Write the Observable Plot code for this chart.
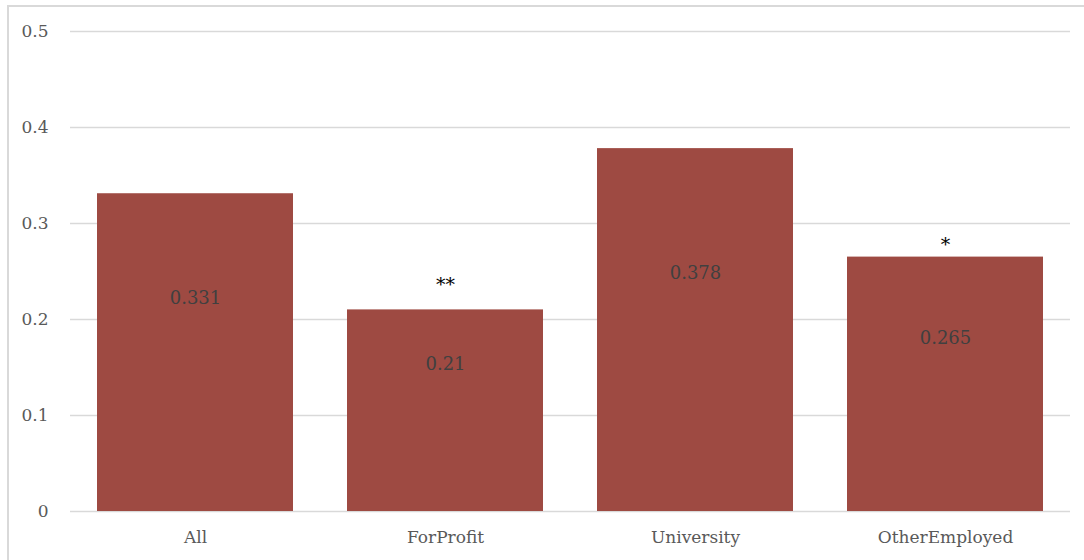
<!DOCTYPE html>
<html>
<head>
<meta charset="utf-8">
<script src="https://cdn.jsdelivr.net/npm/d3@7"></script>
<script src="https://cdn.jsdelivr.net/npm/@observablehq/plot@0.6"></script>
<style>
  html, body { margin: 0; padding: 0; background: #fff; }
  #wrap { position: relative; width: 1084px; height: 560px; overflow: hidden; }
  #frame { position: absolute; left: 7px; top: 5px; width: 1200px; height: 600px;
           border-left: 2px solid #d9d9d9; border-top: 2px solid #d9d9d9; box-sizing: border-box; }
  #chart { position: absolute; left: 0; top: 0; }
</style>
</head>
<body>
<div id="wrap"><div id="frame"></div><div id="chart"></div></div>
<script>
const categories = ["All", "ForProfit", "University", "OtherEmployed"];
const values = [0.331, 0.21, 0.378, 0.265];
const valueLabels = ["0.331", "0.21", "0.378", "0.265"];
const labelAnchors = [0.222, 0.153, 0.248, 0.18];
const stars = ["", "**", "", "*"];
const starAnchors = [null, 0.2365, null, 0.278];
const yTicks = [0, 0.1, 0.2, 0.3, 0.4, 0.5];

const data = categories.map((c, i) => ({
  cat: c, value: values[i], label: valueLabels[i], anchor: labelAnchors[i], star: stars[i], starY: starAnchors[i]
}));

const font = "'DejaVu Serif', serif";

const chart = Plot.plot({
  width: 1084,
  height: 560,
  marginLeft: 70,
  marginRight: 14,
  marginTop: 31,
  marginBottom: 49,
  style: { fontFamily: font, fontSize: "17px", color: "#595959", background: "transparent" },
  x: { domain: categories, paddingInner: 0.216, paddingOuter: 0.108, label: null, tickSize: 0, tickPadding: 19 },
  y: { domain: [0, 0.5], ticks: yTicks, tickFormat: d => d === 0 ? "0" : d3.format(".1f")(d), label: null, tickSize: 0, tickPadding: 22 },
  marks: [
    Plot.gridY(yTicks, { stroke: "#d9d9d9", strokeWidth: 1.5, strokeOpacity: 1 }),
    Plot.barY(data, { x: "cat", y: "value", fill: "#9e4a42" }),
    Plot.text(data, { x: "cat", y: "anchor", text: "label", fill: "#404040", fontSize: 18, fontFamily: font }),
    Plot.text(data.filter(d => d.star), { x: "cat", y: "starY", text: "star", fill: "#000", fontSize: 19, fontFamily: font })
  ]
});
document.getElementById("chart").appendChild(chart);
</script>
</body>
</html>
